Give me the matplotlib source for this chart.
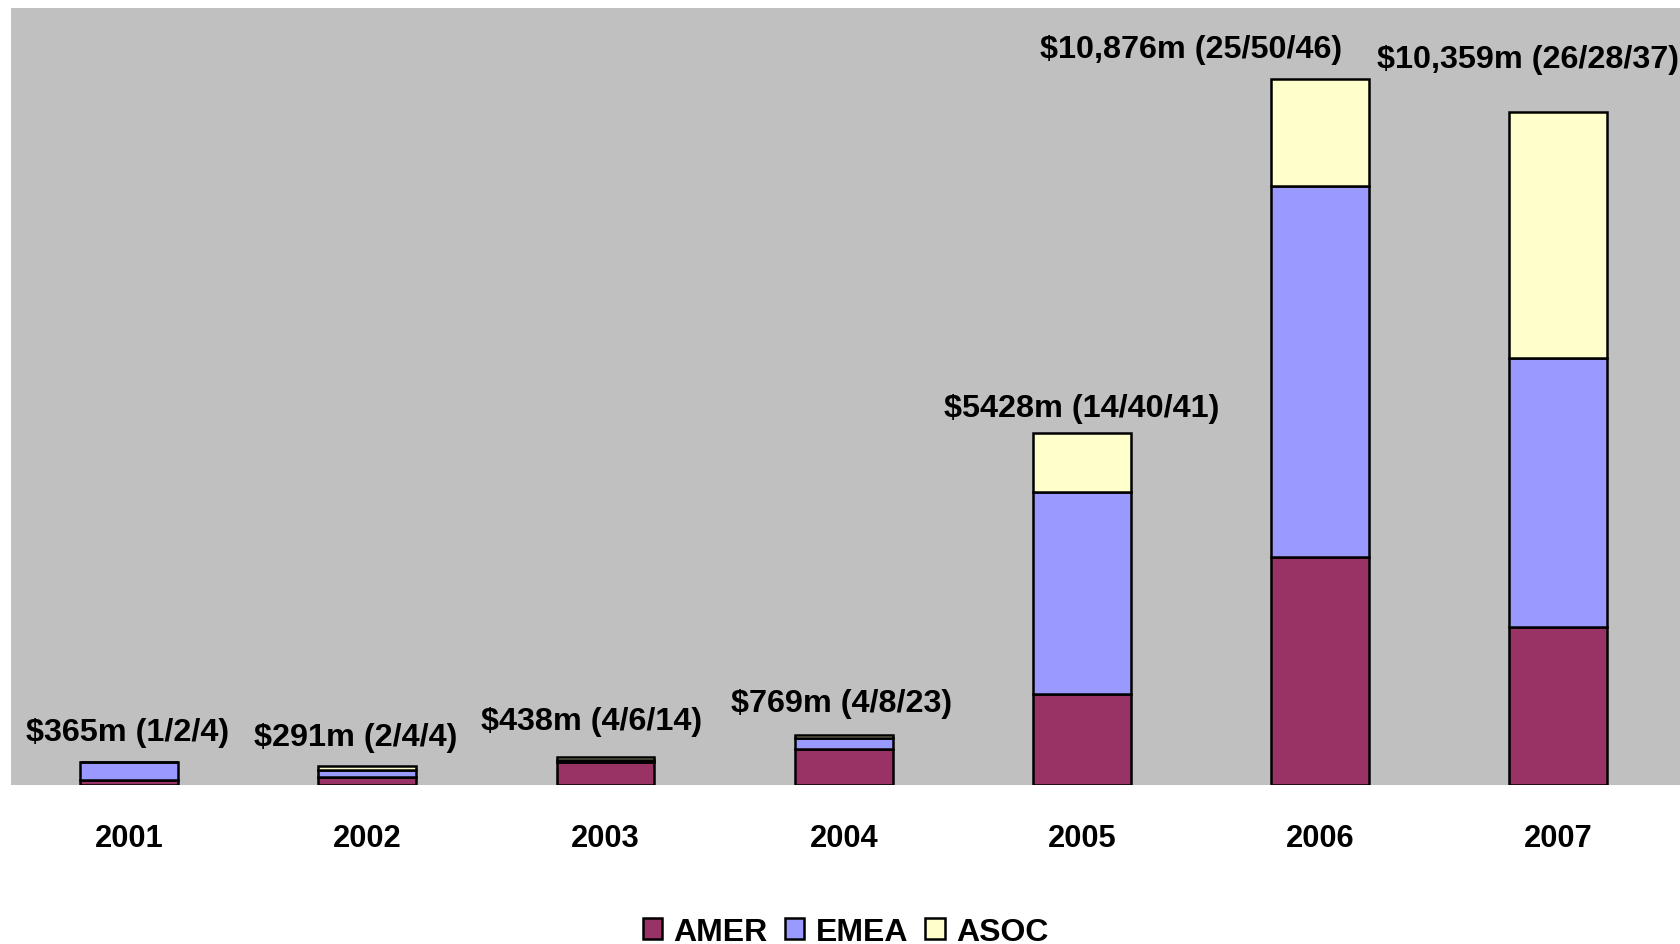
import matplotlib
matplotlib.use("Agg")
import matplotlib.pyplot as plt
from matplotlib.patches import Patch
import numpy as np

years = ["2001", "2002", "2003", "2004", "2005", "2006", "2007"]
amer = [85, 120, 350, 561, 1400, 3515, 2430]
emea = [275, 120, 45, 165, 3120, 5711, 4150]
asoc = [5, 51, 43, 43, 908, 1650, 3779]
labels = [
    "$365m (1/2/4)",
    "$291m (2/4/4)",
    "$438m (4/6/14)",
    "$769m (4/8/23)",
    "$5428m (14/40/41)",
    "$10,876m (25/50/46)",
    "$10,359m (26/28/37)",
]
series_names = ["AMER", "EMEA", "ASOC"]
colors = ["#993366", "#9999FF", "#FFFFCC"]

# label offsets from the top of each bar, in points
label_dx = [-1, -8.5, -10, -1.5, 0, -93, -22]
label_dy = [21.5, 21, 25.5, 23, 18, 21, 38.5]

FONT = ["Liberation Sans", "DejaVu Sans"]
plt.rcParams["font.family"] = FONT

fig = plt.figure(figsize=(16.81, 9.45), dpi=100)
ax = fig.add_axes([0.0065, 0.168, 0.9935, 0.823])
ax.set_facecolor("#C0C0C0")

x = np.arange(len(years))
width = 0.41
bottom = np.zeros(len(years))
for vals, col in zip([amer, emea, asoc], colors):
    ax.bar(x, vals, width, bottom=bottom, color=col, edgecolor="black",
           linewidth=1.8, zorder=3)
    bottom += np.array(vals)

totals = bottom
for i, (lab, t) in enumerate(zip(labels, totals)):
    ax.annotate(lab, xy=(x[i], t), xytext=(label_dx[i], label_dy[i]),
                textcoords="offset points", ha="center", va="center",
                fontsize=23.3, fontweight="bold", zorder=4)

ax.set_xlim(-0.496, 6.515)
ax.set_ylim(0, 11970)
ax.set_xticks(x)
ax.set_xticklabels(years, fontsize=22.2, fontweight="bold")
ax.tick_params(axis="x", length=0, pad=27)
ax.set_yticks([])
for s in ax.spines.values():
    s.set_visible(False)

handles = [Patch(facecolor=c, edgecolor="black", linewidth=1.8) for c in colors]
fig.legend(handles, series_names, loc="center", bbox_to_anchor=(0.503, 0.013),
           ncol=3, frameon=False, prop={"family": FONT, "weight": "bold", "size": 23},
           handlelength=0.6, handleheight=0.65, handletextpad=0.35,
           columnspacing=0.55, borderaxespad=0)

fig.savefig("out.png", dpi=100, facecolor="white")
